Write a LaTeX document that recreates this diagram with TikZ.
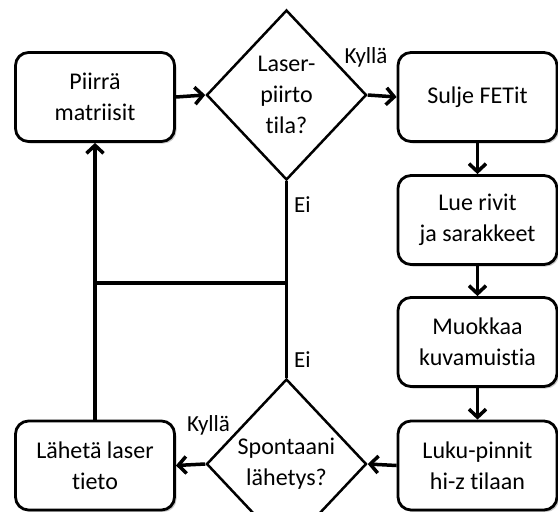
\documentclass[tikz,border=0pt]{standalone}
\usepackage{fontspec}
\setmainfont{Carlito}[Ligatures=NoCommon]
\usetikzlibrary{shapes.geometric,arrows.meta,shadows}
\begin{document}
\begin{tikzpicture}[x=1pt,y=-1pt,
  box/.style={draw, line width=2.8pt, rounded corners=13pt, minimum width=159pt, minimum height=89pt,
    align=center, font=\fontsize{24}{31}\selectfont, inner sep=0pt, fill=white,
    drop shadow={shadow xshift=2pt, shadow yshift=-2pt, opacity=0.3, fill=black!70}},
  dec/.style={draw, diamond, line width=2.5pt, minimum width=160pt, minimum height=170pt,
    inner sep=0pt, align=center, font=\fontsize{24}{31}\selectfont},
  conn/.style={line width=3.5pt},
  arr/.style={conn, -{Straight Barb[length=8pt,width=17pt]}},
  lbl/.style={font=\fontsize{23}{28}\selectfont, inner sep=0pt}
]
\useasboundingbox (0,0) rectangle (558,512);
\clip (0,0) rectangle (558,512);
\fill[white] (0,0) rectangle (558,512);

\node[box] (piirra) at (95,97) {Piirrä\\matriisit};
\node[dec] (d1) at (286.5,95) {Laser-\\piirto\\tila?};
\node[box] (sulje) at (477.5,97) {Sulje FETit};
\node[box] (lue) at (477.5,220) {Lue rivit\\ja sarakkeet};
\node[box] (muok) at (477.5,342) {Muokkaa\\kuvamuistia};
\node[box] (luku) at (477.5,465.5) {Luku-pinnit\\hi-z tilaan};
\node[dec] (d2) at (286.5,464) {Spontaani\\lähetys?};
\node[box] (lahe) at (95,465.5) {Lähetä laser\\tieto};

\coordinate (j1) at (286.5,283);
\coordinate (j2) at (95,283);

\draw[arr] (piirra.east) -- (d1.west);
\draw[arr] (d1.east) -- (sulje.west);
\draw[arr] (sulje.south) -- (lue.north);
\draw[arr] (lue.south) -- (muok.north);
\draw[arr] (muok.south) -- (luku.north);
\draw[arr] (luku.west) -- (d2.east);
\draw[arr] (d2.west) -- (lahe.east);
\draw[conn] (d1.south) -- (d2.north);
\draw[conn] (j1) -- (j2);
\draw[arr] (lahe.north) -- (piirra.south);

\node[lbl] (k1) at (366,57) {Kyllä};
\node[lbl] (k2) at (208.5,425) {Kyllä};
\node[lbl] (e1) at (302.5,205) {Ei};
\node[lbl] (e2) at (302.5,360) {Ei};
\end{tikzpicture}
\end{document}
